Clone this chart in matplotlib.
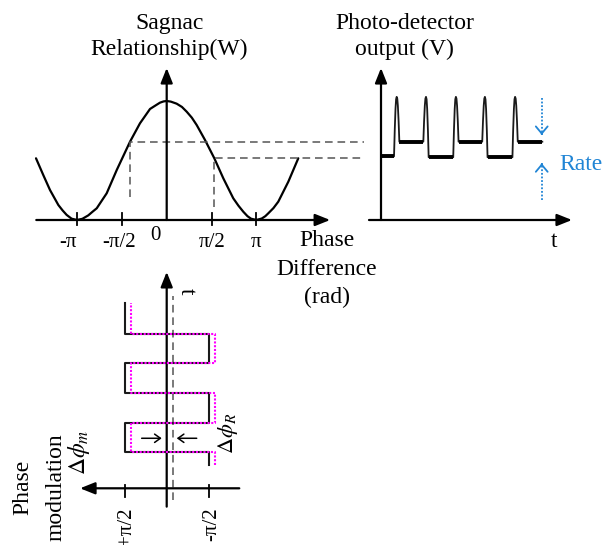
import matplotlib
matplotlib.use("Agg")
import matplotlib.pyplot as plt

plt.rcParams['font.family'] = ['Liberation Serif', 'DejaVu Serif']
plt.rcParams['mathtext.fontset'] = 'stix'
plt.rcParams['lines.scale_dashes'] = False

# ---------------- data ----------------
# Sagnac relationship: phase difference (units of pi) and power (W, arb.)
sagnac_phase = [-1.457, -1.376, -1.301, -1.208, -1.16, -1.115, -1.06, -1.0, -0.94,
                -0.874, -0.83, -0.780, -0.669, -0.557, -0.409, -0.298, -0.186, -0.13,
                -0.075, -0.035, 0.0, 0.045, 0.111, 0.17, 0.223, 0.28, 0.334, 0.427,
                0.531, 0.631, 0.742, 0.80, 0.854, 0.90, 0.94, 1.0, 1.06, 1.10, 1.133,
                1.19, 1.244, 1.356, 1.467]
sagnac_power = [1.037, 0.756, 0.504, 0.252, 0.16, 0.085, 0.022, 0.0, 0.02,
                0.078, 0.135, 0.197, 0.449, 0.840, 1.316, 1.625, 1.866, 1.92,
                1.972, 1.993, 2.0, 1.99, 1.955, 1.9, 1.82, 1.72, 1.597, 1.345,
                1.037, 0.701, 0.365, 0.24, 0.139, 0.065, 0.022, 0.0, 0.025, 0.065, 0.113,
                0.2, 0.308, 0.644, 1.037]
phase_ticks = [-1.0, -0.5, 0.5, 1.0]
phase_tick_labels = ['-\u03c0', '-\u03c0/2', '\u03c0/2', '\u03c0']

# operating points (phase in pi units, power level, lower end of dashed drop)
op_phase = [-0.41, 0.53]
op_power = [1.316, 1.05]
op_drop = [0.39, 0.22]

# photo-detector output
det_switch_t = [0.53, 1.52, 2.53, 3.51, 4.53]
det_levels = [1.07, 1.316, 1.055, 1.316, 1.055, 1.316]
det_peak = 2.07
det_end_t = 5.45
spike_dt = [-0.09, -0.065, -0.04, -0.02, 0.0, 0.02, 0.04, 0.065, 0.09]
spike_frac = [0.0, 0.45, 0.8, 0.96, 1.0, 0.96, 0.8, 0.45, 0.0]
rate_t = 5.43
rate_top = [2.045, 1.43]
rate_bottom = [0.336, 0.953]

# phase modulation (square wave, phase in pi units vs time)
mod_switch_t = [1.23, 2.22, 3.21, 4.22, 5.21]
mod_levels = [-0.5, 0.5, -0.5, 0.5, -0.5, 0.5]
mod_start_t, mod_end_t = 0.79, 6.25
delta_phi_R = -0.075
mod_ticks = [0.5, -0.5]
mod_tick_labels = ['+\u03c0/2', '-\u03c0/2']

# ---------------- figure ----------------
W_PX, H_PX, DPI = 613, 545, 100
fig = plt.figure(figsize=(W_PX / DPI, H_PX / DPI), dpi=DPI)


def overlay(x0, y0, xs, ys):
    ax = fig.add_axes([0, 0, 1, 1])
    ax.set_xlim((0 - x0) / xs, (W_PX - x0) / xs)
    ax.set_ylim((y0 - H_PX) / ys, y0 / ys)
    ax.axis('off')
    ax.patch.set_alpha(0)
    return ax


def fpx(x, y):
    return (x / W_PX, 1 - y / H_PX)


def axis_arrow(ax, start, tip):
    ax.annotate('', xy=tip, xytext=start,
                arrowprops=dict(arrowstyle='-|>,head_length=0.45,head_width=0.18',
                                mutation_scale=20, lw=1.6, color='black',
                                shrinkA=0, shrinkB=0),
                annotation_clip=False)


DASH = (0, (5.5, 3.5))
GRAY = '#555555'
BLUE = '#2185d5'
FS = 17
FS_T = 15

axL = overlay(166.7, 220, 89.7, 59.5)
axR = overlay(381, 220, 29.6, 59.5)
axB = overlay(166.7, 488.3, -84.3, 29.6)

# ---- top-left: Sagnac relationship ----
axis_arrow(axL, (-1.454, 0), (1.822, 0))
axis_arrow(axL, (0, 0), (0, 2.555))
for p in phase_ticks:
    axL.plot([p, p], [-5 / 59.5, 7 / 59.5], color='black', lw=1.3)
axL.plot(sagnac_phase, sagnac_power, color='black', lw=1.6,
         solid_joinstyle='round', solid_capstyle='round')
dash_end = (364 - 166.7) / 89.7
for p, w, d in zip(op_phase, op_power, op_drop):
    axL.plot([p, p, dash_end], [d, w, w], color=GRAY, lw=1.1, linestyle=DASH,
             clip_on=False)

label_dx = [-8.7, -2.9, 1.0, -0.4]
for p, lab, dx in zip(phase_ticks, phase_tick_labels, label_dx):
    axL.annotate(lab, xy=(p, 0), xytext=(dx, -27), textcoords='offset pixels',
                 ha='center', va='baseline', fontsize=FS_T)
axL.annotate('0', xy=(0, 0), xytext=(-11.2, -20), textcoords='offset pixels',
             ha='center', va='baseline', fontsize=FS_T)

fig.text(*fpx(170, 29), 'Sagnac', ha='center', va='baseline', fontsize=FS)
fig.text(*fpx(169.5, 55), 'Relationship(W)', ha='center', va='baseline', fontsize=FS)
for txt, yb in zip(['Phase', 'Difference', '(rad)'], [246, 275, 303]):
    fig.text(*fpx(327, yb), txt, ha='center', va='baseline', fontsize=FS)

# ---- top-right: photo-detector output ----
axis_arrow(axR, ((369 - 381) / 29.6, 0), ((572 - 381) / 29.6, 0))
axis_arrow(axR, (0, 0), (0, 2.555))
tx, vy = [0.0], [det_levels[0]]
for i, ts in enumerate(det_switch_t):
    prev, nxt = det_levels[i], det_levels[i + 1]
    for dt, fr in zip(spike_dt, spike_frac):
        tx.append(ts + dt)
        base = prev if dt <= 0 else nxt
        vy.append(base + fr * (det_peak - base))
tx.append(det_end_t)
vy.append(det_levels[-1])
axR.plot(tx, vy, color='#1a1a1a', lw=1.3, solid_joinstyle='round')
edges = [0.0] + det_switch_t + [det_end_t]
hw = spike_dt[-1]
for i, lev in enumerate(det_levels):
    a = edges[i] + (hw if i > 0 else 0.0)
    b = edges[i + 1] - (hw if i < len(det_levels) - 1 else 0.0)
    axR.plot([a, b], [lev, lev], color='black', lw=2.8, solid_capstyle='butt')

# rate arrows (dotted blue)
for seg in (rate_top, rate_bottom):
    axR.plot([rate_t, rate_t], seg, color=BLUE, lw=1.3, linestyle=(0, (1.3, 1.3)))
    direction = 1 if seg[1] < seg[0] else -1
    axR.annotate('', xy=(rate_t, seg[1]), xytext=(rate_t, seg[1] + direction * 0.02),
                 arrowprops=dict(arrowstyle='->,head_length=0.3,head_width=0.25',
                                 mutation_scale=17, lw=1.3, color=BLUE,
                                 shrinkA=0, shrinkB=0))
fig.text(*fpx(559, 170), 'Rate', ha='left', va='baseline', fontsize=FS, color=BLUE)
fig.text(*fpx(554, 247), 't', ha='center', va='baseline', fontsize=FS)
fig.text(*fpx(405, 29), 'Photo-detector', ha='center', va='baseline', fontsize=FS)
fig.text(*fpx(404, 55.5), 'output (V)', ha='center', va='baseline', fontsize=FS)

# ---- bottom: phase modulation ----
axis_arrow(axB, (-0.861, 0), (1.028, 0))
axis_arrow(axB, (0, -0.62), (0, 7.31))
for p in mod_ticks:
    axB.plot([p, p], [-8.4 / 29.6, 3.3 / 29.6], color='black', lw=1.3)


def square(levels, offset=0.0):
    xs, ys = [levels[0] + offset], [mod_start_t]
    for i, ts in enumerate(mod_switch_t):
        xs += [levels[i] + offset, levels[i + 1] + offset]
        ys += [ts, ts]
    xs.append(levels[-1] + offset)
    ys.append(mod_end_t)
    return xs, ys


bx, by = square(mod_levels)
axB.plot(bx, by, color='#1a1a1a', lw=1.5, zorder=3)
mx, my = square(mod_levels, delta_phi_R)
axB.plot(mx, my, color='#ff00ff', lw=1.5, linestyle=(0, (1.5, 1.2)), zorder=4)
axB.plot([delta_phi_R, delta_phi_R], [-0.4, 6.49], color=GRAY, lw=1.1,
         linestyle=DASH, zorder=2)

arrow_t = 1.69
for a, b in ((0.297, 0.059), (-0.356, -0.119)):
    axB.annotate('', xy=(b, arrow_t), xytext=(a, arrow_t),
                 arrowprops=dict(arrowstyle='->,head_length=0.35,head_width=0.25',
                                 mutation_scale=12, lw=1.1, color='black',
                                 shrinkA=0, shrinkB=0))

for p, lab, dx in zip(mod_ticks, mod_tick_labels, [6.5, 7.6]):
    axB.annotate(lab, xy=(p, 0), xytext=(dx, -18.7), textcoords='offset pixels',
                 ha='right', va='baseline', rotation=90, rotation_mode='anchor',
                 fontsize=FS_T)

fig.text(*fpx(28.5, 487), 'Phase', ha='center', va='baseline', rotation=90,
         rotation_mode='anchor', fontsize=FS)
fig.text(*fpx(62, 487), 'modulation', ha='center', va='baseline', rotation=90,
         rotation_mode='anchor', fontsize=FS)
fig.text(*fpx(85, 452), r'$\Delta\phi_m$', ha='center', va='baseline', rotation=90,
         rotation_mode='anchor', fontsize=FS)
fig.text(*fpx(233, 433.5), r'$\Delta\phi_R$', ha='center', va='baseline', rotation=90,
         rotation_mode='anchor', fontsize=16)
fig.text(*fpx(181, 291.7), 't', ha='center', va='baseline', rotation=-90,
         rotation_mode='anchor', fontsize=FS)

fig.savefig('out.png', dpi=DPI, facecolor='white')
